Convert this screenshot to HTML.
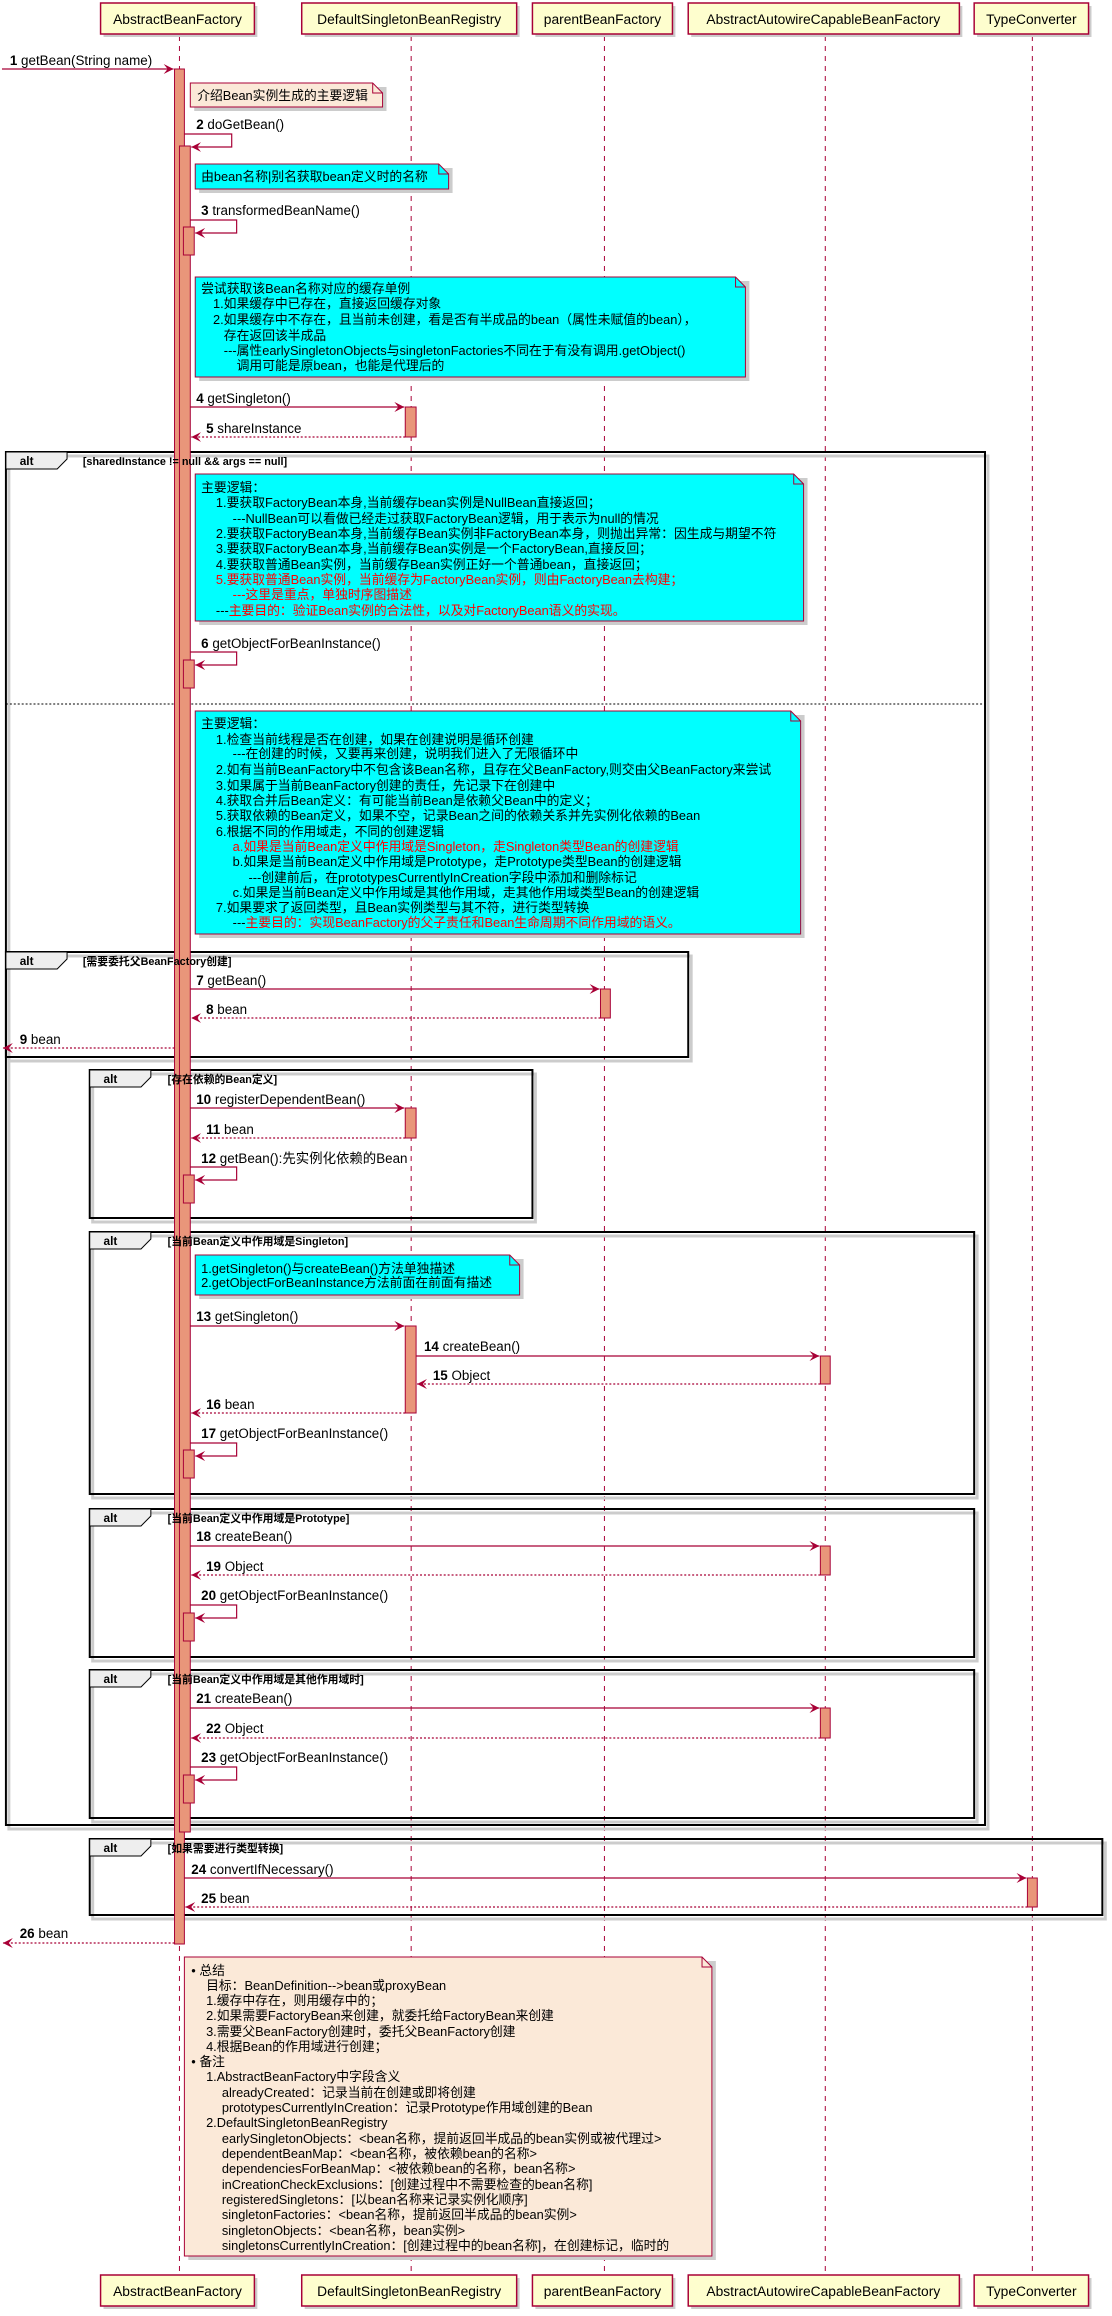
<!DOCTYPE html>
<html><head><meta charset="utf-8"><style>
html,body{margin:0;padding:0;background:#fff;}
svg{display:block;}
text{font-family:"Liberation Sans","Noto Sans CJK SC",sans-serif;}
.m{font-size:13.6px;fill:#000;}
.n{font-size:13px;fill:#000;}
.r{fill:#FF0000;}
.p{font-size:14px;fill:#000;}
.c{font-size:11px;font-weight:bold;fill:#000;}
.alt{font-size:12px;font-weight:bold;fill:#000;}
</style></head><body>
<svg width="1112" height="2316" viewBox="0 0 1112 2316" xmlns="http://www.w3.org/2000/svg">
<defs>
<marker id="a" markerWidth="11" markerHeight="10" refX="10" refY="5" orient="auto" markerUnits="userSpaceOnUse"><path d="M0,0 L10,5 L0,10 L4,5 z" fill="#A80036"/></marker>
</defs>
<g transform="scale(0.986,1)">

<!-- lifelines -->
<g stroke="#A80036" stroke-width="1" stroke-dasharray="5,5">
<line x1="182" y1="36" x2="182" y2="2273"/>
<line x1="417" y1="36" x2="417" y2="2273"/>
<line x1="613" y1="36" x2="613" y2="2273"/>
<line x1="837" y1="36" x2="837" y2="2273"/>
<line x1="1047" y1="36" x2="1047" y2="2273"/>
</g>

<!-- participants -->
<g fill="#FEFECE" stroke="#A80036" stroke-width="1.5">
<rect x="105" y="6" width="156" height="31" fill="#ccc" stroke="none"/>
<rect x="309" y="6" width="218" height="31" fill="#ccc" stroke="none"/>
<rect x="543" y="6" width="142" height="31" fill="#ccc" stroke="none"/>
<rect x="701" y="6" width="275" height="31" fill="#ccc" stroke="none"/>
<rect x="991" y="6" width="116" height="31" fill="#ccc" stroke="none"/>
<rect x="102" y="3" width="156" height="31"/>
<rect x="306" y="3" width="218" height="31"/>
<rect x="540" y="3" width="142" height="31"/>
<rect x="698" y="3" width="275" height="31"/>
<rect x="988" y="3" width="116" height="31"/>
<rect x="105" y="2278" width="156" height="31" fill="#ccc" stroke="none"/>
<rect x="309" y="2278" width="218" height="31" fill="#ccc" stroke="none"/>
<rect x="543" y="2278" width="142" height="31" fill="#ccc" stroke="none"/>
<rect x="701" y="2278" width="275" height="31" fill="#ccc" stroke="none"/>
<rect x="991" y="2278" width="116" height="31" fill="#ccc" stroke="none"/>
<rect x="102" y="2275" width="156" height="31"/>
<rect x="306" y="2275" width="218" height="31"/>
<rect x="540" y="2275" width="142" height="31"/>
<rect x="698" y="2275" width="275" height="31"/>
<rect x="988" y="2275" width="116" height="31"/>
</g>
<g class="p" text-anchor="middle">
<text x="180" y="24" class="p">AbstractBeanFactory</text>
<text x="415" y="24" class="p">DefaultSingletonBeanRegistry</text>
<text x="611" y="24" class="p">parentBeanFactory</text>
<text x="835" y="24" class="p">AbstractAutowireCapableBeanFactory</text>
<text x="1046" y="24" class="p">TypeConverter</text>
<text x="180" y="2296" class="p">AbstractBeanFactory</text>
<text x="415" y="2296" class="p">DefaultSingletonBeanRegistry</text>
<text x="611" y="2296" class="p">parentBeanFactory</text>
<text x="835" y="2296" class="p">AbstractAutowireCapableBeanFactory</text>
<text x="1046" y="2296" class="p">TypeConverter</text>
</g>

<!-- frames -->
<g fill="none" stroke="#000" stroke-width="2">
<g stroke="#ccc" stroke-width="3">
<rect x="9" y="456" width="993" height="1373"/>
<rect x="9" y="956" width="692" height="105"/>
<rect x="94" y="1074" width="449" height="148"/>
<rect x="94" y="1236" width="897" height="262"/>
<rect x="94" y="1513" width="897" height="148"/>
<rect x="94" y="1674" width="897" height="148"/>
<rect x="94" y="1843" width="1027" height="76"/>
</g>
<rect x="6" y="452" width="993" height="1373"/>
<rect x="6" y="952" width="692" height="105"/>
<rect x="91" y="1070" width="449" height="148"/>
<rect x="91" y="1232" width="897" height="262"/>
<rect x="91" y="1509" width="897" height="148"/>
<rect x="91" y="1670" width="897" height="148"/>
<rect x="91" y="1839" width="1027" height="76"/>
</g>
<line x1="6" y1="704" x2="999" y2="704" stroke="#000" stroke-width="1" stroke-dasharray="2,2"/>
<g fill="#EEEEEE" stroke="#000" stroke-width="1">
<polygon points="6,452 68,452 68,459 58,469 6,469"/>
<polygon points="6,952 68,952 68,959 58,969 6,969"/>
<polygon points="91,1070 153,1070 153,1077 143,1087 91,1087"/>
<polygon points="91,1232 153,1232 153,1239 143,1249 91,1249"/>
<polygon points="91,1509 153,1509 153,1516 143,1526 91,1526"/>
<polygon points="91,1670 153,1670 153,1677 143,1687 91,1687"/>
<polygon points="91,1839 153,1839 153,1846 143,1856 91,1856"/>
</g>
<g class="alt">
<text x="20" y="465" class="alt">alt</text>
<text x="20" y="965" class="alt">alt</text>
<text x="105" y="1083" class="alt">alt</text>
<text x="105" y="1245" class="alt">alt</text>
<text x="105" y="1522" class="alt">alt</text>
<text x="105" y="1683" class="alt">alt</text>
<text x="105" y="1852" class="alt">alt</text>
</g>

<!-- activations -->
<g fill="#E9967A" stroke="#A80036" stroke-width="1">
<rect x="177" y="69" width="10" height="1875"/>
<rect x="182" y="146" width="11" height="1686"/>
<rect x="186" y="227" width="11" height="28"/>
<rect x="411" y="407" width="11" height="30"/>
<rect x="186" y="660" width="11" height="28"/>
<rect x="609" y="989" width="10" height="29"/>
<rect x="411" y="1108" width="11" height="30"/>
<rect x="186" y="1175" width="11" height="28"/>
<rect x="411" y="1326" width="11" height="87"/>
<rect x="832" y="1356" width="10" height="28"/>
<rect x="186" y="1450" width="11" height="28"/>
<rect x="832" y="1546" width="10" height="29"/>
<rect x="186" y="1613" width="11" height="28"/>
<rect x="832" y="1708" width="10" height="30"/>
<rect x="186" y="1775" width="11" height="28"/>
<rect x="1042" y="1878" width="10" height="29"/>
</g>

<text x="84" y="465" class="c">[sharedInstance != null &amp;&amp; args == null]</text>
<text x="84" y="965" class="c">[需要委托父BeanFactory创建]</text>
<text x="170" y="1083" class="c">[存在依赖的Bean定义]</text>
<text x="170" y="1245" class="c">[当前Bean定义中作用域是Singleton]</text>
<text x="170" y="1522" class="c">[当前Bean定义中作用域是Prototype]</text>
<text x="170" y="1683" class="c">[当前Bean定义中作用域是其他作用域时]</text>
<text x="170" y="1852" class="c">[如果需要进行类型转换]</text>

<!-- notes -->
<g stroke="#A80036" stroke-width="1">
<g fill="#ccc" stroke="none">
<rect x="197" y="87" width="195" height="24"/>
<rect x="202" y="168" width="257" height="25"/>
<rect x="202" y="281" width="558" height="100"/>
<rect x="202" y="478" width="617" height="147"/>
<rect x="202" y="715" width="614" height="223"/>
<rect x="202" y="1259" width="329" height="40"/>
<rect x="191" y="1961" width="535" height="299"/>
</g>
<polygon fill="#FBE9D8" points="193,83 378,83 388,93 388,107 193,107"/>
<polyline fill="none" points="378,83 378,93 388,93"/>
<polygon fill="#00FFFF" points="198,164 445,164 455,174 455,189 198,189"/>
<polyline fill="none" points="445,164 445,174 455,174"/>
<polygon fill="#00FFFF" points="198,277 746,277 756,287 756,377 198,377"/>
<polyline fill="none" points="746,277 746,287 756,287"/>
<polygon fill="#00FFFF" points="198,474 805,474 815,484 815,621 198,621"/>
<polyline fill="none" points="805,474 805,484 815,484"/>
<polygon fill="#00FFFF" points="198,711 802,711 812,721 812,934 198,934"/>
<polyline fill="none" points="802,711 802,721 812,721"/>
<polygon fill="#00FFFF" points="198,1255 517,1255 527,1265 527,1295 198,1295"/>
<polyline fill="none" points="517,1255 517,1265 527,1265"/>
<polygon fill="#FBE9D8" points="187,1957 712,1957 722,1967 722,2256 187,2256"/>
<polyline fill="none" points="712,1957 712,1967 722,1967"/>
</g>

<g class="n">
<text x="200" y="100" class="n">介绍Bean实例生成的主要逻辑</text>
<text x="204" y="181" class="n">由bean名称|别名获取bean定义时的名称</text>

<text x="204" y="293" class="n">尝试获取该Bean名称对应的缓存单例</text>
<text x="216" y="308" class="n">1.如果缓存中已存在，直接返回缓存对象</text>
<text x="216" y="324" class="n">2.如果缓存中不存在，且当前未创建，看是否有半成品的bean（属性未赋值的bean），</text>
<text x="227" y="340" class="n">存在返回该半成品</text>
<text x="227" y="355" class="n">---属性earlySingletonObjects与singletonFactories不同在于有没有调用.getObject()</text>
<text x="240" y="370" class="n">调用可能是原bean，也能是代理后的</text>

<text x="204" y="492" class="n">主要逻辑：</text>
<text x="219" y="507" class="n">1.要获取FactoryBean本身,当前缓存bean实例是NullBean直接返回；</text>
<text x="236" y="523" class="n">---NullBean可以看做已经走过获取FactoryBean逻辑，用于表示为null的情况</text>
<text x="219" y="538" class="n">2.要获取FactoryBean本身,当前缓存Bean实例非FactoryBean本身，则抛出异常：因生成与期望不符</text>
<text x="219" y="553" class="n">3.要获取FactoryBean本身,当前缓存Bean实例是一个FactoryBean,直接反回；</text>
<text x="219" y="569" class="n">4.要获取普通Bean实例，当前缓存Bean实例正好一个普通bean，直接返回；</text>
<text x="219" y="584" class="n r">5.要获取普通Bean实例，当前缓存为FactoryBean实例，则由FactoryBean去构建；</text>
<text x="236" y="599" class="n r">---这里是重点，单独时序图描述</text>
<text x="219" y="615" class="n"><tspan>---</tspan><tspan class="r">主要目的：验证Bean实例的合法性，以及对FactoryBean语义的实现。</tspan></text>

<text x="204" y="728" class="n">主要逻辑：</text>
<text x="219" y="744" class="n">1.检查当前线程是否在创建，如果在创建说明是循环创建</text>
<text x="236" y="758" class="n">---在创建的时候，又要再来创建，说明我们进入了无限循环中</text>
<text x="219" y="774" class="n">2.如有当前BeanFactory中不包含该Bean名称，且存在父BeanFactory,则交由父BeanFactory来尝试</text>
<text x="219" y="790" class="n">3.如果属于当前BeanFactory创建的责任，先记录下在创建中</text>
<text x="219" y="805" class="n">4.获取合并后Bean定义：有可能当前Bean是依赖父Bean中的定义；</text>
<text x="219" y="820" class="n">5.获取依赖的Bean定义，如果不空，记录Bean之间的依赖关系并先实例化依赖的Bean</text>
<text x="219" y="836" class="n">6.根据不同的作用域走，不同的创建逻辑</text>
<text x="236" y="851" class="n r">a.如果是当前Bean定义中作用域是Singleton，走Singleton类型Bean的创建逻辑</text>
<text x="236" y="866" class="n">b.如果是当前Bean定义中作用域是Prototype，走Prototype类型Bean的创建逻辑</text>
<text x="252" y="882" class="n">---创建前后，在prototypesCurrentlyInCreation字段中添加和删除标记</text>
<text x="236" y="897" class="n">c.如果是当前Bean定义中作用域是其他作用域，走其他作用域类型Bean的创建逻辑</text>
<text x="219" y="912" class="n">7.如果要求了返回类型，且Bean实例类型与其不符，进行类型转换</text>
<text x="236" y="927" class="n"><tspan>---</tspan><tspan class="r">主要目的：实现BeanFactory的父子责任和Bean生命周期不同作用域的语义。</tspan></text>

<text x="204" y="1273" class="n">1.getSingleton()与createBean()方法单独描述</text>
<text x="204" y="1287" class="n">2.getObjectForBeanInstance方法前面在前面有描述</text>

<text x="194" y="1975" class="n">• 总结</text>
<text x="209" y="1990" class="n">目标：BeanDefinition--&gt;bean或proxyBean</text>
<text x="209" y="2005" class="n">1.缓存中存在，则用缓存中的；</text>
<text x="209" y="2020" class="n">2.如果需要FactoryBean来创建，就委托给FactoryBean来创建</text>
<text x="209" y="2036" class="n">3.需要父BeanFactory创建时，委托父BeanFactory创建</text>
<text x="209" y="2051" class="n">4.根据Bean的作用域进行创建；</text>
<text x="194" y="2066" class="n">• 备注</text>
<text x="209" y="2081" class="n">1.AbstractBeanFactory中字段含义</text>
<text x="225" y="2097" class="n">alreadyCreated：记录当前在创建或即将创建</text>
<text x="225" y="2112" class="n">prototypesCurrentlyInCreation：记录Prototype作用域创建的Bean</text>
<text x="209" y="2127" class="n">2.DefaultSingletonBeanRegistry</text>
<text x="225" y="2143" class="n">earlySingletonObjects：&lt;bean名称，提前返回半成品的bean实例或被代理过&gt;</text>
<text x="225" y="2158" class="n">dependentBeanMap：&lt;bean名称，被依赖bean的名称&gt;</text>
<text x="225" y="2173" class="n">dependenciesForBeanMap：&lt;被依赖bean的名称，bean名称&gt;</text>
<text x="225" y="2189" class="n">inCreationCheckExclusions：[创建过程中不需要检查的bean名称]</text>
<text x="225" y="2204" class="n">registeredSingletons：[以bean名称来记录实例化顺序]</text>
<text x="225" y="2219" class="n">singletonFactories：&lt;bean名称，提前返回半成品的bean实例&gt;</text>
<text x="225" y="2235" class="n">singletonObjects：&lt;bean名称，bean实例&gt;</text>
<text x="225" y="2250" class="n">singletonsCurrentlyInCreation：[创建过程中的bean名称]，在创建标记，临时的</text>
</g>

<!-- messages -->
<g stroke="#A80036" stroke-width="1.2" fill="none">
<line x1="2" y1="69" x2="176" y2="69" marker-end="url(#a)"/>
<polyline points="187,134 235,134 235,147 194,147" marker-end="url(#a)"/>
<polyline points="193,220 240,220 240,233 198,233" marker-end="url(#a)"/>
<line x1="193" y1="407" x2="410" y2="407" marker-end="url(#a)"/>
<line x1="411" y1="437" x2="194" y2="437" stroke-dasharray="2,2" marker-end="url(#a)"/>
<polyline points="193,652 240,652 240,665 198,665" marker-end="url(#a)"/>
<line x1="193" y1="989" x2="608" y2="989" marker-end="url(#a)"/>
<line x1="609" y1="1018" x2="194" y2="1018" stroke-dasharray="2,2" marker-end="url(#a)"/>
<line x1="177" y1="1048" x2="3" y2="1048" stroke-dasharray="2,2" marker-end="url(#a)"/>
<line x1="193" y1="1108" x2="410" y2="1108" marker-end="url(#a)"/>
<line x1="411" y1="1138" x2="194" y2="1138" stroke-dasharray="2,2" marker-end="url(#a)"/>
<polyline points="193,1167 240,1167 240,1180 198,1180" marker-end="url(#a)"/>
<line x1="193" y1="1326" x2="410" y2="1326" marker-end="url(#a)"/>
<line x1="422" y1="1356" x2="831" y2="1356" marker-end="url(#a)"/>
<line x1="832" y1="1384" x2="423" y2="1384" stroke-dasharray="2,2" marker-end="url(#a)"/>
<line x1="411" y1="1413" x2="194" y2="1413" stroke-dasharray="2,2" marker-end="url(#a)"/>
<polyline points="193,1443 240,1443 240,1456 198,1456" marker-end="url(#a)"/>
<line x1="193" y1="1546" x2="831" y2="1546" marker-end="url(#a)"/>
<line x1="832" y1="1575" x2="194" y2="1575" stroke-dasharray="2,2" marker-end="url(#a)"/>
<polyline points="193,1605 240,1605 240,1618 198,1618" marker-end="url(#a)"/>
<line x1="193" y1="1708" x2="831" y2="1708" marker-end="url(#a)"/>
<line x1="832" y1="1738" x2="194" y2="1738" stroke-dasharray="2,2" marker-end="url(#a)"/>
<polyline points="193,1767 240,1767 240,1780 198,1780" marker-end="url(#a)"/>
<line x1="187" y1="1878" x2="1041" y2="1878" marker-end="url(#a)"/>
<line x1="1042" y1="1907" x2="188" y2="1907" stroke-dasharray="2,2" marker-end="url(#a)"/>
<line x1="177" y1="1943" x2="3" y2="1943" stroke-dasharray="2,2" marker-end="url(#a)"/>
</g>

<g class="m">
<text x="10" y="65" class="m"><tspan font-weight="bold">1</tspan> getBean(String name)</text>
<text x="199" y="129" class="m"><tspan font-weight="bold">2</tspan> doGetBean()</text>
<text x="204" y="215" class="m"><tspan font-weight="bold">3</tspan> transformedBeanName()</text>
<text x="199" y="403" class="m"><tspan font-weight="bold">4</tspan> getSingleton()</text>
<text x="209" y="433" class="m"><tspan font-weight="bold">5</tspan> shareInstance</text>
<text x="204" y="648" class="m"><tspan font-weight="bold">6</tspan> getObjectForBeanInstance()</text>
<text x="199" y="985" class="m"><tspan font-weight="bold">7</tspan> getBean()</text>
<text x="209" y="1014" class="m"><tspan font-weight="bold">8</tspan> bean</text>
<text x="20" y="1044" class="m"><tspan font-weight="bold">9</tspan> bean</text>
<text x="199" y="1104" class="m"><tspan font-weight="bold">10</tspan> registerDependentBean()</text>
<text x="209" y="1134" class="m"><tspan font-weight="bold">11</tspan> bean</text>
<text x="204" y="1163" class="m"><tspan font-weight="bold">12</tspan> getBean():先实例化依赖的Bean</text>
<text x="199" y="1321" class="m"><tspan font-weight="bold">13</tspan> getSingleton()</text>
<text x="430" y="1351" class="m"><tspan font-weight="bold">14</tspan> createBean()</text>
<text x="439" y="1380" class="m"><tspan font-weight="bold">15</tspan> Object</text>
<text x="209" y="1409" class="m"><tspan font-weight="bold">16</tspan> bean</text>
<text x="204" y="1438" class="m"><tspan font-weight="bold">17</tspan> getObjectForBeanInstance()</text>
<text x="199" y="1541" class="m"><tspan font-weight="bold">18</tspan> createBean()</text>
<text x="209" y="1571" class="m"><tspan font-weight="bold">19</tspan> Object</text>
<text x="204" y="1600" class="m"><tspan font-weight="bold">20</tspan> getObjectForBeanInstance()</text>
<text x="199" y="1703" class="m"><tspan font-weight="bold">21</tspan> createBean()</text>
<text x="209" y="1733" class="m"><tspan font-weight="bold">22</tspan> Object</text>
<text x="204" y="1762" class="m"><tspan font-weight="bold">23</tspan> getObjectForBeanInstance()</text>
<text x="194" y="1874" class="m"><tspan font-weight="bold">24</tspan> convertIfNecessary()</text>
<text x="204" y="1903" class="m"><tspan font-weight="bold">25</tspan> bean</text>
<text x="20" y="1938" class="m"><tspan font-weight="bold">26</tspan> bean</text>
</g>
</g>
</svg>
</body></html>
